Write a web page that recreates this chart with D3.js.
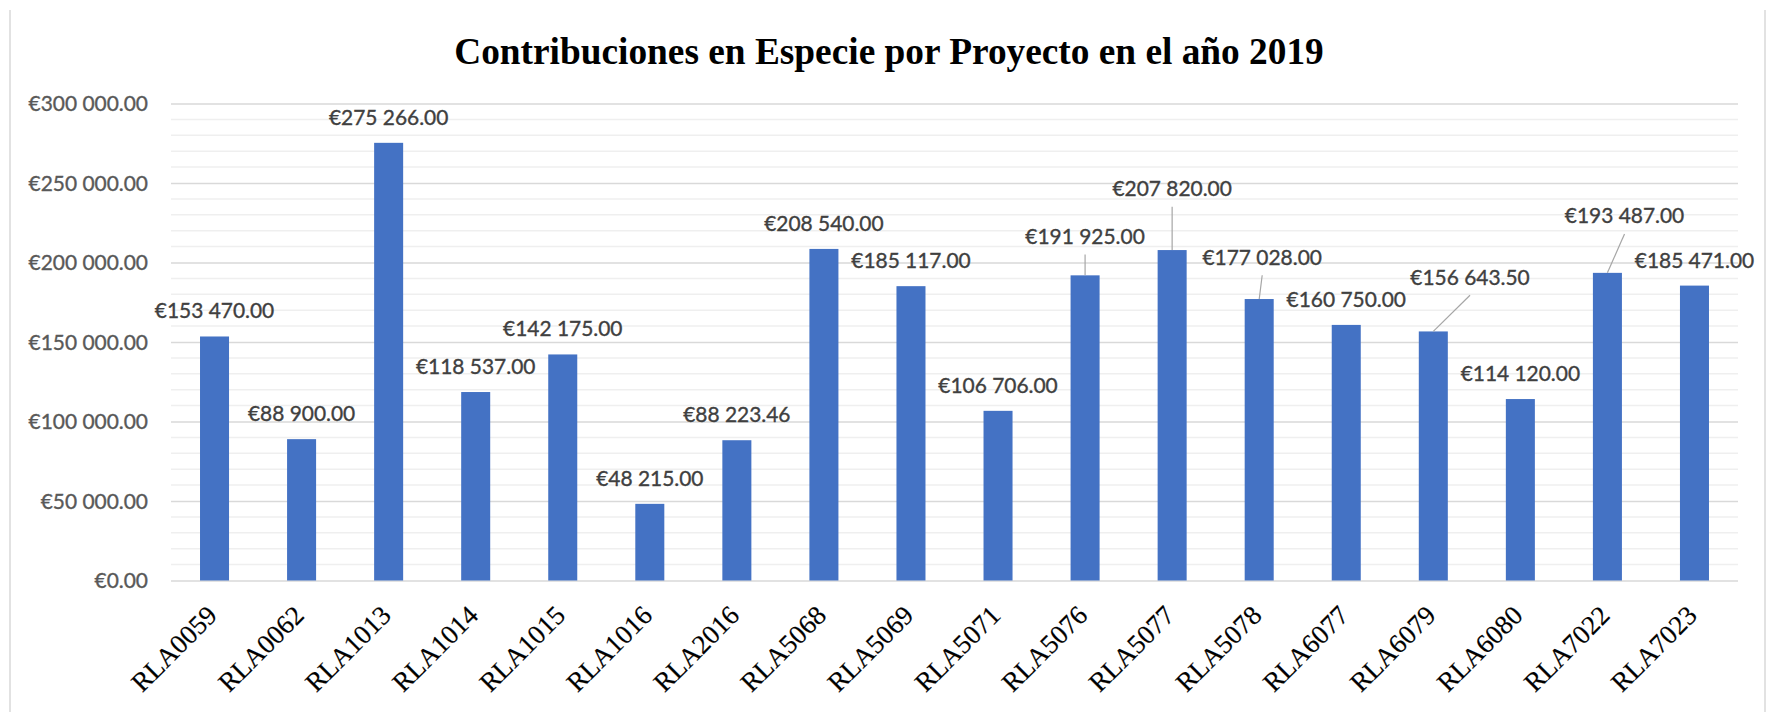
<!DOCTYPE html>
<html><head><meta charset="utf-8">
<script src="https://cdn.jsdelivr.net/npm/d3@7"></script>
<style>body{margin:0;background:#fff}svg{display:block}</style>
</head><body><svg id="c" width="1768" height="712"></svg>
<script>
const title = "Contribuciones en Especie por Proyecto en el año 2019";
const categories = ["RLA0059","RLA0062","RLA1013","RLA1014","RLA1015","RLA1016","RLA2016","RLA5068","RLA5069","RLA5071","RLA5076","RLA5077","RLA5078","RLA6077","RLA6079","RLA6080","RLA7022","RLA7023"];
const values = [153470,88900,275266,118537,142175,48215,88223.46,208540,185117,106706,191925,207820,177028,160750,156643.5,114120,193487,185471];
const yTicks = [0,50000,100000,150000,200000,250000,300000];
const yMinorStep = 10000;
// labels moved off their bars (pixel shift), drawn with leader lines
const labelShift = {RLA5076:[0,-13.4], RLA5077:[0,-35.7], RLA5078:[3,-16.3], RLA6079:[36.7,-28.7], RLA7022:[17.1,-31.4]};

const svg = d3.select("#c");
const W = 1768, H = 712;
const plot = {left:171, right:1738, top:103.5, bottom:580.5};
const labelFont = "Lato, 'Open Sans', sans-serif";
const fmt = v => "€" + d3.format(",.2f")(v).replace(/,/g, " ");

// fit label font size to target width
const probe = svg.append("text").attr("font-family", labelFont).attr("font-size", 20).text("€250 000.00");
const pw = probe.node().getComputedTextLength();
probe.remove();
const lfs = 20 * 119.5 / pw;

const x = d3.scaleBand().domain(categories).range([plot.left, plot.right]).paddingInner(2/3).paddingOuter(1/3);
const y = d3.scaleLinear().domain([0, 300000]).range([plot.bottom, plot.top]);

// chart border
svg.append("line").attr("x1",10).attr("x2",10).attr("y1",10).attr("y2",H).attr("stroke","#d9d9d9").attr("stroke-width",1.5);
svg.append("line").attr("x1",1765).attr("x2",1765).attr("y1",10).attr("y2",H).attr("stroke","#d9d9d9").attr("stroke-width",1.5);

// minor gridlines
const minor = d3.range(0, 300001, yMinorStep).filter(v => v % 50000 !== 0);
svg.append("g").selectAll("line").data(minor).join("line")
  .attr("x1", plot.left).attr("x2", plot.right)
  .attr("y1", d => y(d)).attr("y2", d => y(d))
  .attr("stroke", "#efefef").attr("stroke-width", 1.5);

// y axis with major gridlines
const yAxis = d3.axisLeft(y).tickValues(yTicks).tickFormat(fmt).tickSize(-(plot.right - plot.left)).tickPadding(23);
const gy = svg.append("g").attr("transform", `translate(${plot.left},0)`).call(yAxis);
gy.select(".domain").remove();
gy.selectAll(".tick line").attr("stroke", "#d9d9d9").attr("stroke-width", 1.5);
gy.selectAll(".tick text").attr("font-family", labelFont).attr("font-size", lfs).attr("fill", "#595959")
  .attr("stroke", "#595959").attr("stroke-width", 0.35).attr("dy", "0.34em");

// bars
svg.append("g").selectAll("rect").data(categories).join("rect")
  .attr("x", d => x(d)).attr("width", x.bandwidth())
  .attr("y", (d,i) => y(values[i])).attr("height", (d,i) => y(0) - y(values[i]))
  .attr("fill", "#4472C4");

// x axis labels
const xAxis = d3.axisBottom(x).tickSize(0).tickPadding(0);
const gx = svg.append("g").attr("transform", `translate(0,${plot.bottom})`).call(xAxis);
gx.select(".domain").remove();
gx.selectAll(".tick text")
  .attr("font-family", "'Liberation Serif', 'Times New Roman', serif").attr("font-size", 27).attr("fill", "#000")
  .attr("stroke", "#000").attr("stroke-width", 0.2)
  .attr("text-anchor", "end").attr("dy", 0).attr("y", 0)
  .attr("transform", "translate(4,36.5) rotate(-45)");

// data labels
const lbl = svg.append("g");
categories.forEach((c, i) => {
  const cx = x(c) + x.bandwidth() / 2;
  const top = y(values[i]);
  const s = labelShift[c] || [0, 0];
  const lx = cx + s[0], ly = top - 18 + s[1];
  if (labelShift[c]) {
    lbl.append("line").attr("x1", lx).attr("y1", ly + 10.5).attr("x2", cx).attr("y2", top)
      .attr("stroke", "#a6a6a6").attr("stroke-width", 1.2);
  }
  lbl.append("text").attr("x", lx).attr("y", ly).attr("text-anchor", "middle")
    .attr("font-family", labelFont).attr("font-size", lfs).attr("fill", "#404040")
    .attr("stroke", "#404040").attr("stroke-width", 0.35).text(fmt(values[i]));
});

// title
svg.append("text").attr("x", 889).attr("y", 63.5).attr("text-anchor", "middle")
  .attr("font-family", "'Liberation Serif', 'Times New Roman', serif").attr("font-weight", "bold")
  .attr("font-size", 37.33).attr("fill", "#000").text(title);
</script></body></html>
